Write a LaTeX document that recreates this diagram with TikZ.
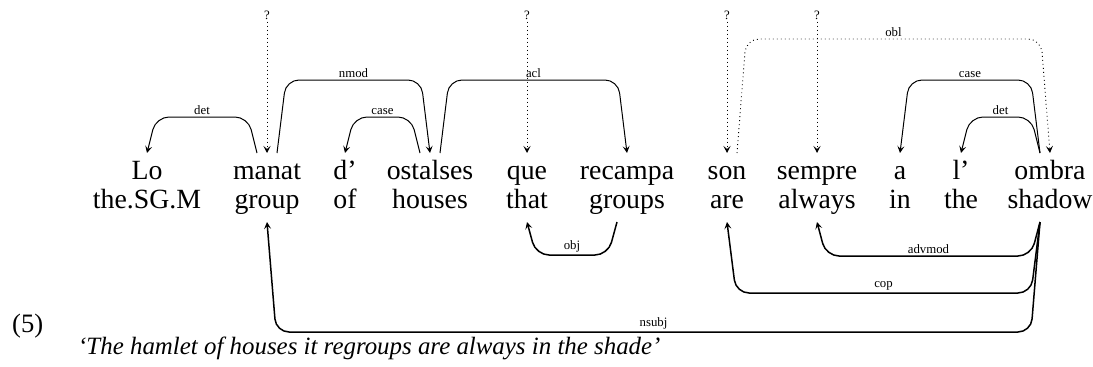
\documentclass[tikz,border=0pt]{standalone}
\usepackage{fontspec}
\setmainfont{Liberation Serif}
\usetikzlibrary{calc,arrows.meta}
\def\dslant{9}
\def\deparc[#1](#2)(#3)(#4:#5){\draw[deparrow,#1] let \p1=(#2), \p2=(#3), \n1={ifthenelse(\x2>\x1,\dslant,-\dslant)} in (\p1) -- (\x1+\n1,#4pt) -- node[lab] {#5} (\x2-\n1,#4pt) -- (\p2);}

\begin{document}
\begin{tikzpicture}[x=1pt,y=1pt,
		word/.style={font=\fontsize{27.8}{30}\selectfont, inner sep=0pt, outer ysep=8pt, text height=18pt, text depth=6pt, anchor=base},
		lab/.style={font=\fontsize{12.8}{14}\selectfont, anchor=south, inner sep=2pt},
		deparrow/.style={line width=1pt, rounded corners=13pt, -{Stealth[length=7pt,width=7pt,inset=3pt]}},
		lowarc/.style={line width=1.5pt},
		dots/.style={dash pattern=on 0.9pt off 3.1pt, line width=0.9pt}]
		%%%%% START %%%%%
		\useasboundingbox (0,0) rectangle (1093,-367);
		
		% words
		\node[word] (lo) at (147,-179) {Lo};
		\node[word] (manat) at (267,-179) {manat};
		\node[word] (de) at (345,-179) {d’};
		\node[word] (ostalses) at (430,-179) {ostalses};
		\node[word] (que) at (527,-179) {que};
		\node[word] (recampa) at (627,-179) {recampa};
		\node[word] (son) at (727,-179) {son};
		\node[word] (sempre) at (817,-179) {sempre};
		\node[word] (a) at (900,-179) {a};
		\node[word] (la) at (961,-179) {l’};
		\node[word] (ombra) at (1050,-179) {ombra};
		
		% glosses
		\node[word] (lo-gl) at (147,-208) {the.SG.M};
		\node[word] (manat-gl) at (267,-208) {group};
		\node[word] (de-gl) at (345,-208) {of};
		\node[word] (ostalses-gl) at (430,-208) {houses};
		\node[word] (que-gl) at (527,-208) {that};
		\node[word] (recampa-gl) at (627,-208) {groups};
		\node[word] (son-gl) at (727,-208) {are};
		\node[word] (sempre-gl) at (817,-208) {always};
		\node[word] (a-gl) at (900,-208) {in};
		\node[word] (la-gl) at (961,-208) {the};
		\node[word] (ombra-gl) at (1050,-208) {shadow};
		
		% unknown heads
		\node[lab, anchor=center] (q-manat) at (267,-15) {?};
		\node[lab, anchor=center] (q-que) at (527,-15) {?};
		\node[lab, anchor=center] (q-son) at (727,-15) {?};
		\node[lab, anchor=center] (q-sempre) at (817,-15) {?};
		\draw[deparrow,dots] (q-manat.south) -- (manat.north);
		\draw[deparrow,dots] (q-que.south) -- (que.north);
		\draw[deparrow,dots] (q-son.south) -- (son.north);
		\draw[deparrow,dots] (q-sempre.south) -- (sempre.north);
		
		% arcs above
		\deparc[]([xshift=-10pt]manat.north)(lo.north)(-117:det)
		\deparc[]([xshift=10pt]manat.north)(ostalses.north)(-80:nmod)
		\deparc[]([xshift=-10pt]ostalses.north)(de.north)(-117:case)
		\deparc[]([xshift=10pt]ostalses.north)(recampa.north)(-80:acl)
		\deparc[dots]([xshift=10pt]son.north)(ombra.north)(-39:obl)
		\deparc[]([xshift=-10pt]ombra.north)(a.north)(-80:case)
		\deparc[]([xshift=-10pt]ombra.north)(la.north)(-117:det)
		
		% arcs below
		\deparc[lowarc]([xshift=-10pt]recampa-gl.south)(que-gl.south)(-255:obj)
		\deparc[lowarc]([xshift=-10pt]ombra-gl.south)(sempre-gl.south)(-256:advmod)
		\deparc[lowarc]([xshift=-10pt]ombra-gl.south)(son-gl.south)(-293:cop)
		\deparc[lowarc]([xshift=-10pt]ombra-gl.south)(manat-gl.south)(-332:nsubj)
		
		% number and translation
		\node[anchor=base west, inner sep=0pt, font=\fontsize{26.6}{28}\selectfont] (exnum) at (12,-332) {(5)};
		\node[anchor=base west, inner sep=0pt, font=\fontsize{24.9}{28}\selectfont\itshape] (trans) at (78,-354) {‘The hamlet of houses it regroups are always in the shade’};
		
		%%%%% END %%%%%
\end{tikzpicture}
\end{document}
